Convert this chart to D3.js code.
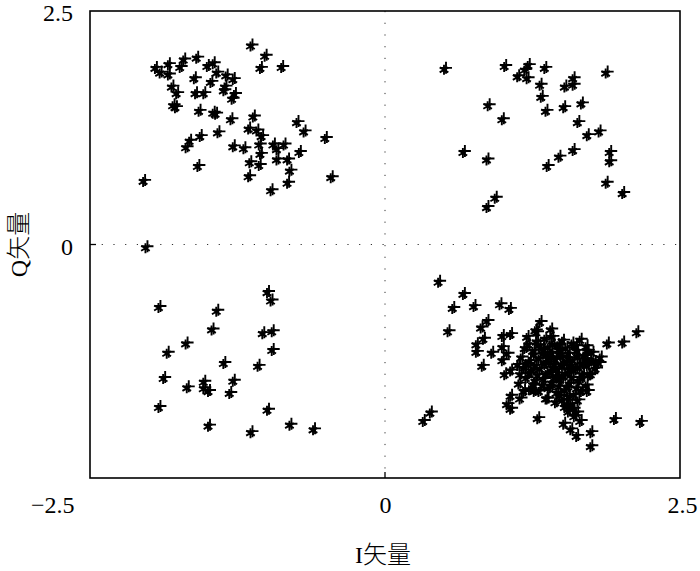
<!DOCTYPE html>
<html>
<head>
<meta charset="utf-8">
<script src="https://cdn.jsdelivr.net/npm/d3@7"></script>
<style>
  body { margin: 0; background: #fff; }
  text { font-family: "Liberation Serif", "Times New Roman", "Noto Sans CJK SC", serif; fill: #000; }
  .title { font-weight: 300; }
</style>
</head>
<body>
<svg width="700" height="571"></svg>
<script>
let width = 700, height = 571;

// received symbols, one array per quadrant, [I, Q]
var quad2 = [
  [-1.14,2.12],[-1.02,2.01],[-1.06,1.88],[-0.88,1.89],[-1.95,1.88],[-1.91,1.83],[-1.84,1.92],[-1.84,1.81],
  [-1.74,1.89],[-1.71,1.97],[-1.60,1.99],[-1.51,1.90],[-1.46,1.93],[-1.43,1.83],[-1.62,1.77],[-1.48,1.73],
  [-1.35,1.80],[-1.29,1.76],[-1.36,1.68],[-1.81,1.68],[-1.77,1.61],[-1.61,1.61],[-1.54,1.61],[-1.37,1.64],
  [-1.28,1.60],[-1.30,1.55],[-1.80,1.48],[-1.78,1.46],[-1.58,1.42],[-1.46,1.40],[-1.44,1.39],[-1.31,1.33],
  [-1.12,1.36],[-1.16,1.23],[-1.09,1.21],[-1.05,1.15],[-0.75,1.30],[-0.69,1.20],[-0.51,1.13],[-1.42,1.19],
  [-1.57,1.15],[-1.66,1.10],[-1.69,1.03],[-1.29,1.04],[-1.20,1.02],[-1.07,1.06],[-1.06,0.96],[-0.95,1.06],
  [-0.86,1.06],[-0.92,1.01],[-0.92,0.90],[-0.83,0.90],[-0.73,0.98],[-1.15,0.87],[-1.07,0.84],[-0.81,0.78],
  [-1.16,0.72],[-1.59,0.83],[-0.83,0.65],[-0.46,0.71],[-0.97,0.57],[-2.05,0.67],[-2.03,-0.04]
];
var quad1 = [
  [0.50,1.87],[1.01,1.90],[1.12,1.79],[1.18,1.86],[1.21,1.91],[1.20,1.77],[1.35,1.88],[1.31,1.70],
  [1.32,1.57],[1.36,1.42],[1.51,1.46],[1.59,1.77],[1.52,1.68],[1.59,1.70],[1.66,1.50],[1.63,1.30],
  [1.71,1.16],[1.81,1.20],[1.87,1.83],[0.87,1.48],[0.99,1.33],[0.66,0.98],[0.86,0.90],[1.37,0.83],
  [1.47,0.93],[1.59,1.00],[1.90,0.98],[1.90,0.88],[1.87,0.65],[2.01,0.54],[0.93,0.49],[0.86,0.39]
];
var quad3 = [
  [-1.92,-0.68],[-1.43,-0.72],[-1.00,-0.52],[-0.97,-0.61],[-1.47,-0.92],[-1.69,-1.07],[-1.85,-1.17],
  [-1.04,-0.96],[-0.96,-0.94],[-0.96,-1.14],[-1.37,-1.28],[-1.08,-1.31],[-1.88,-1.44],[-1.68,-1.54],
  [-1.54,-1.48],[-1.54,-1.55],[-1.50,-1.58],[-1.29,-1.47],[-1.32,-1.60],[-1.92,-1.75],[-1.00,-1.78],
  [-1.50,-1.95],[-1.14,-2.02],[-0.81,-1.94],[-0.61,-1.99]
];
var quad4 = [
  [0.45,-0.41],[0.66,-0.54],[0.57,-0.69],[0.75,-0.67],[0.97,-0.65],[1.05,-0.70],[0.53,-0.94],[0.86,-0.83],
  [0.81,-0.90],[0.83,-1.02],[0.77,-1.08],[0.77,-1.16],[0.90,-1.17],[0.82,-1.31],[0.99,-0.99],[1.06,-0.97],
  [0.99,-1.11],[1.03,-1.18],[0.99,-1.25],[1.01,-1.40],[1.06,-1.36],[1.31,-0.84],[1.27,-0.93],[1.41,-1.00],
  [1.88,-1.07],[2.01,-1.06],[2.13,-0.95],[1.82,-1.22],[1.77,-1.27],[1.71,-1.15],[1.13,-1.50],[1.06,-1.63],
  [1.03,-1.72],[1.06,-1.77],[1.14,-1.66],[0.38,-1.81],[0.32,-1.90],[1.29,-1.87],[1.51,-1.93],[1.57,-1.99],
  [1.62,-2.06],[1.74,-2.02],[1.74,-2.17],[1.94,-1.88],[2.16,-1.91],[1.65,-1.90],[1.62,-1.81],[1.54,-1.74],
  [1.71,-1.58],[1.72,-1.41],[1.37,-1.66],[1.26,-1.58],[1.17,-1.58],
  // dense core
  [1.20,-1.00],[1.28,-1.05],[1.35,-1.02],[1.42,-1.08],[1.50,-1.04],[1.58,-1.07],[1.65,-1.03],[1.70,-1.10],
  [1.18,-1.12],[1.25,-1.15],[1.33,-1.13],[1.40,-1.17],[1.47,-1.14],[1.55,-1.18],[1.62,-1.15],[1.68,-1.20],
  [1.75,-1.17],[1.15,-1.22],[1.22,-1.26],[1.30,-1.23],[1.37,-1.27],[1.44,-1.24],[1.52,-1.28],[1.59,-1.25],
  [1.66,-1.29],[1.73,-1.26],[1.17,-1.33],[1.24,-1.36],[1.31,-1.34],[1.39,-1.38],[1.46,-1.35],[1.53,-1.39],
  [1.60,-1.36],[1.67,-1.40],[1.78,-1.34],[1.19,-1.44],[1.27,-1.47],[1.34,-1.45],[1.41,-1.49],[1.48,-1.46],
  [1.56,-1.50],[1.63,-1.47],[1.70,-1.52],[1.22,-1.56],[1.30,-1.58],[1.38,-1.55],[1.45,-1.60],[1.52,-1.57],
  [1.60,-1.62],[1.66,-1.58],[1.36,-1.66],[1.44,-1.70],[1.50,-1.68],[1.57,-1.72],[1.63,-1.68],[1.55,-1.80],
  [1.60,-1.85],[1.43,-1.30],[1.49,-1.21],[1.36,-1.20],[1.57,-1.31],[1.45,-1.42],[1.28,-0.95],[1.40,-0.92],
  [1.21,-1.08],[1.30,-1.09],[1.38,-1.11],[1.46,-1.09],[1.53,-1.12],[1.61,-1.10],[1.26,-1.19],[1.34,-1.18],
  [1.41,-1.22],[1.48,-1.19],[1.55,-1.23],[1.63,-1.21],[1.70,-1.24],[1.20,-1.29],[1.27,-1.31],[1.35,-1.29],
  [1.42,-1.33],[1.50,-1.31],[1.56,-1.35],[1.63,-1.33],[1.71,-1.31],[1.22,-1.39],[1.29,-1.41],[1.36,-1.40],
  [1.43,-1.44],[1.51,-1.42],[1.58,-1.44],[1.66,-1.44],[1.25,-1.51],[1.33,-1.52],[1.40,-1.53],[1.47,-1.53],
  [1.54,-1.54],[1.62,-1.55],[1.48,-1.63],[1.55,-1.64],[1.59,-1.77],[1.52,-1.75],[1.14,-1.40],[1.12,-1.30],
  [1.74,-1.40],[1.81,-1.28]
];

var xTicks = [-2.5, 0, 2.5];
var yTicks = [0, 2.5];
var xTitle = "I矢量", yTitle = "Q矢量";

let points = quad2.concat(quad1, quad3, quad4);

let svg = d3.select("svg");
let margin = {left: 90, right: 20, top: 11, bottom: 93};

let x = d3.scaleLinear().domain([-2.5, 2.5]).range([margin.left, width - margin.right]);
let y = d3.scaleLinear().domain([-2.5, 2.5]).range([height - margin.bottom, margin.top]);

// dotted zero lines
svg.append("line")
    .attr("x1", x(0)).attr("x2", x(0))
    .attr("y1", y(2.5)).attr("y2", y(-2.5))
    .attr("stroke", "#333").attr("stroke-width", 1)
    .attr("stroke-dasharray", "1.2,10.5");
svg.append("line")
    .attr("x1", x(-2.5)).attr("x2", x(2.5))
    .attr("y1", y(0)).attr("y2", y(0))
    .attr("stroke", "#333").attr("stroke-width", 1)
    .attr("stroke-dasharray", "1.2,10.5");

// custom stroke symbols (asterisk + plus)
let asterisk = {
    draw: function(ctx, size) {
        let r = Math.sqrt(size) / 2, t = r / 2, u = t * Math.sqrt(3);
        ctx.moveTo(0, r); ctx.lineTo(0, -r);
        ctx.moveTo(-u, -t); ctx.lineTo(u, t);
        ctx.moveTo(-u, t); ctx.lineTo(u, -t);
    }
};
let plus = {
    draw: function(ctx, size) {
        let r = Math.sqrt(size) / 2;
        ctx.moveTo(-r, 0); ctx.lineTo(r, 0);
        ctx.moveTo(0, -r); ctx.lineTo(0, r);
    }
};

let marks = svg.append("g").attr("fill", "none").attr("stroke", "#000").attr("stroke-width", 1.9);

marks.selectAll("path.star")
    .data(points)
    .enter()
    .append("path")
    .attr("class", "star")
    .attr("d", d3.symbol().type(asterisk).size(100))
    .attr("transform", d => "translate(" + x(d[0]) + "," + y(d[1]) + ")");

marks.selectAll("path.plus")
    .data(points)
    .enter()
    .append("path")
    .attr("class", "plus")
    .attr("d", d3.symbol().type(plus).size(144))
    .attr("transform", d => "translate(" + (x(d[0]) + 2) + "," + (y(d[1]) - 2) + ")");

// axes
let xAxis = svg.append("g")
    .attr("transform", "translate(0," + y(-2.5) + ")")
    .call(d3.axisBottom(x).tickValues(xTicks).tickSize(0).tickPadding(18)
        .tickFormat(d => d3.format(".2~f")(d).replace("-", "−")));
xAxis.select(".domain").remove();
xAxis.selectAll("text").style("font-size", "24px").attr("fill", "#000");
xAxis.selectAll("text").filter(d => d == -2.5).attr("text-anchor", "end").attr("x", -16);
xAxis.selectAll("text").filter(d => d == 2.5).attr("x", 2);

let yAxis = svg.append("g")
    .attr("transform", "translate(" + x(-2.5) + ",0)")
    .call(d3.axisLeft(y).tickValues(yTicks).tickSize(0).tickPadding(17)
        .tickFormat(d => d3.format(".2~f")(d)));
yAxis.select(".domain").remove();
yAxis.selectAll("text").style("font-size", "24px").attr("fill", "#000").attr("y", 2);

// inner tick marks at zero
svg.append("line")
    .attr("x1", x(0)).attr("x2", x(0))
    .attr("y1", y(-2.5)).attr("y2", y(-2.5) - 6)
    .attr("stroke", "#000").attr("stroke-width", 1.3);
svg.append("line")
    .attr("x1", x(-2.5)).attr("x2", x(-2.5) + 6)
    .attr("y1", y(0)).attr("y2", y(0))
    .attr("stroke", "#000").attr("stroke-width", 1.3);

// frame
svg.append("rect")
    .attr("x", x(-2.5)).attr("y", y(2.5))
    .attr("width", x(2.5) - x(-2.5)).attr("height", y(-2.5) - y(2.5))
    .attr("fill", "none").attr("stroke", "#000").attr("stroke-width", 1.6);

// titles
svg.append("text")
    .attr("class", "title")
    .attr("x", (x(-2.5) + x(2.5)) / 2 - 2)
    .attr("y", 563)
    .attr("text-anchor", "middle")
    .style("font-size", "24px")
    .text(xTitle);

svg.append("text")
    .attr("class", "title")
    .attr("transform", "translate(27," + y(0) + ") rotate(-90)")
    .attr("text-anchor", "middle")
    .style("font-size", "24px")
    .text(yTitle);
</script>
</body>
</html>
